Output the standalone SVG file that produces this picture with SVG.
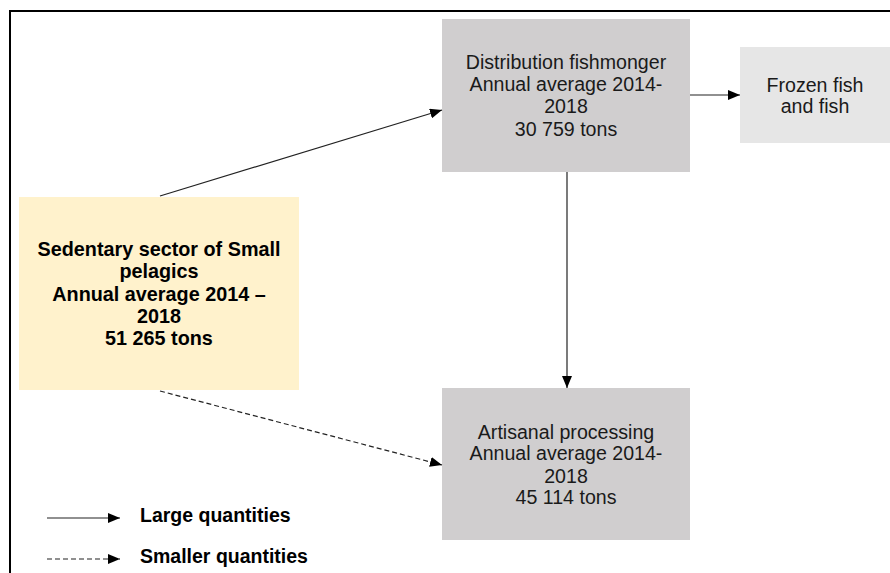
<svg xmlns="http://www.w3.org/2000/svg" width="890" height="573" viewBox="0 0 890 573">
<style>
.t{font-family:"Liberation Sans",Arial,sans-serif;font-size:19.6px;fill:#1a1a1a;text-anchor:middle}
.b{font-weight:bold;fill:#000;font-size:19.8px}
.l{font-family:"Liberation Sans",Arial,sans-serif;font-size:19.5px;font-weight:bold;fill:#000}
.c{stroke:#222;stroke-width:1.2;fill:none}
.d{stroke-dasharray:5,3}
</style>
<defs>
<marker id="ah" viewBox="0 0 12 10" refX="12" refY="5" markerWidth="12" markerHeight="10" markerUnits="userSpaceOnUse" orient="auto">
<path d="M0,0 L12,5 L0,10 Z" fill="#000"/>
</marker>
</defs>
<rect width="890" height="573" fill="#fff"/>
<path d="M10,573 V11 H890" fill="none" stroke="#000" stroke-width="2"/>
<g id="distribution">
<rect x="442" y="19" width="248" height="153" fill="#d0cecf"/>
<text class="t" x="566" y="69">Distribution fishmonger</text>
<text class="t" x="566" y="91">Annual average 2014-</text>
<text class="t" x="566" y="113">2018</text>
<text class="t" x="566" y="136">30 759 tons</text>
</g>
<g id="frozen">
<rect x="740" y="47" width="150" height="96" fill="#e6e6e6"/>
<text class="t" x="815" y="92">Frozen fish</text>
<text class="t" x="815" y="113">and fish</text>
</g>
<g id="sedentary">
<rect x="19" y="197" width="280" height="193" fill="#fff2cc"/>
<text class="t b" x="159" y="256">Sedentary sector of Small</text>
<text class="t b" x="159" y="278">pelagics</text>
<text class="t b" x="159" y="301">Annual average 2014 –</text>
<text class="t b" x="159" y="323">2018</text>
<text class="t b" x="159" y="345">51 265 tons</text>
</g>
<g id="artisanal">
<rect x="442" y="388" width="248" height="152" fill="#d0cecf"/>
<text class="t" x="566" y="439">Artisanal processing</text>
<text class="t" x="566" y="460">Annual average 2014-</text>
<text class="t" x="566" y="483">2018</text>
<text class="t" x="566" y="504">45 114 tons</text>
</g>
<g id="legend">
<line class="c" x1="47" y1="518" x2="120" y2="518" marker-end="url(#ah)"/>
<text class="l" x="140" y="522">Large quantities</text>
<line class="c d" x1="47" y1="559" x2="120" y2="559" marker-end="url(#ah)"/>
<text class="l" x="140" y="563">Smaller quantities</text>
</g>
<g id="connectors">
<line class="c" x1="160" y1="196" x2="442" y2="110" marker-end="url(#ah)"/>
<line class="c" x1="690" y1="95" x2="740" y2="95" marker-end="url(#ah)"/>
<line class="c" x1="567" y1="172" x2="567" y2="388" marker-end="url(#ah)"/>
<line class="c d" x1="160" y1="391" x2="442" y2="465" marker-end="url(#ah)"/>
</g>
</svg>
